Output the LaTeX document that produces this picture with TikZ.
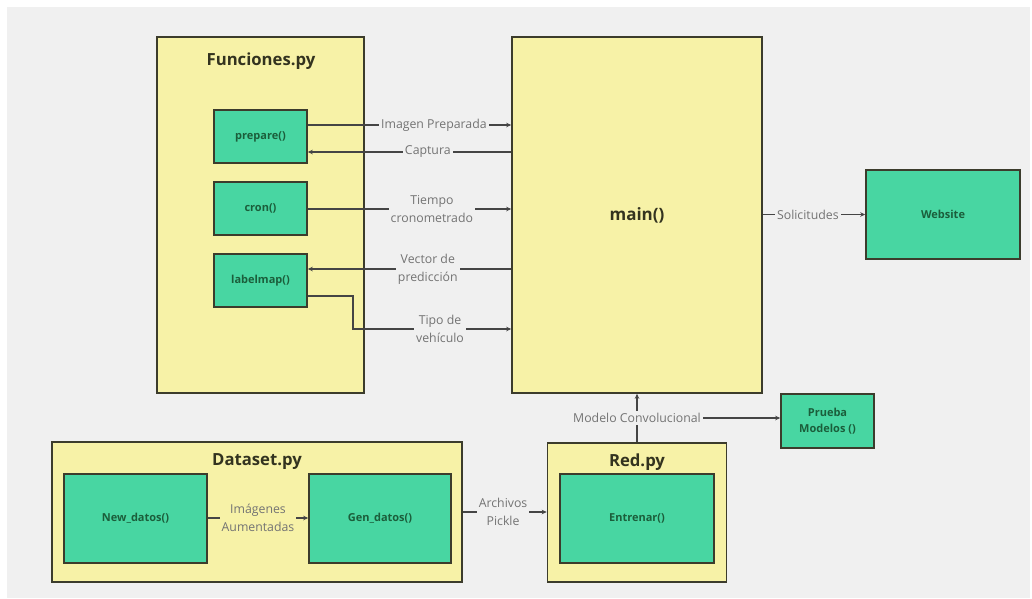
\documentclass[tikz,border=0pt]{standalone}
\usepackage{fontspec}
\setmainfont{Open Sans}
\usetikzlibrary{arrows.meta}
\definecolor{canvas}{HTML}{F0F0F0}
\definecolor{modfill}{HTML}{F7F2A7}
\definecolor{fnfill}{HTML}{48D6A2}
\definecolor{edge}{HTML}{3C3C2C}
\definecolor{fntext}{HTML}{1B5E3B}
\definecolor{lbltext}{HTML}{737373}
\definecolor{wire}{HTML}{454545}
\definecolor{titletext}{HTML}{33331F}
\tikzset{
  module/.style={draw=edge, line width=1.6pt, fill=modfill, inner sep=0pt},
  fnbox/.style={draw=edge, line width=1.6pt, fill=fnfill, inner sep=0pt,
    font=\fontsize{11}{14}\selectfont\bfseries, text=fntext, align=center},
  title/.style={font=\fontsize{16.7}{20}\selectfont\bfseries, text=titletext},
  conn/.style={draw=wire, line width=1.1pt, -{Stealth[length=5pt,width=4.5pt]}},
  plain/.style={draw=wire, line width=1.1pt},
  lbl/.style={fill=canvas, text=lbltext, font=\fontsize{12.3}{18}\selectfont,
    align=center, inner sep=2pt},
}
\begin{document}
\begin{tikzpicture}[x=1pt, y=-1pt]
  % page and canvas
  \useasboundingbox (0,0) rectangle (1032,598);
  \fill[white] (0,0) rectangle (1032,598);
  \fill[canvas] (7,7) rectangle (1030,598);

  % modules
  \node[module, minimum width=207pt, minimum height=356pt] (fun) at (260.5,215) {};
  \node[title] (funt) at (261,61) {Funciones.py};
  \node[module, minimum width=250pt, minimum height=356pt,
        font=\fontsize{17}{20}\selectfont\bfseries, text=titletext] (main) at (637,215) {main()};
  \node[module, minimum width=410pt, minimum height=140pt] (data) at (257,512) {};
  \node[title] (datat) at (257,462) {Dataset.py};
  \node[module, minimum width=179pt, minimum height=139pt] (red) at (637,512.5) {};
  \node[title] (redt) at (637,462) {Red.py};

  % functions
  \node[fnbox, minimum width=93pt, minimum height=53pt] (prep) at (260.5,136.5) {prepare()};
  \node[fnbox, minimum width=93pt, minimum height=53pt] (cron) at (260.5,208.5) {cron()};
  \node[fnbox, minimum width=93pt, minimum height=53pt] (lab) at (260.5,280.5) {labelmap()};
  \node[fnbox, minimum width=154pt, minimum height=89pt] (web) at (943,214.5) {Website};
  \node[fnbox, minimum width=143pt, minimum height=89pt] (newd) at (135.5,518.5) {New\_datos()};
  \node[fnbox, minimum width=142pt, minimum height=89pt] (gend) at (380,518.5) {Gen\_datos()};
  \node[fnbox, minimum width=154pt, minimum height=89pt] (ent) at (637,518.5) {Entrenar()};
  \node[fnbox, minimum width=93pt, minimum height=54pt, font=\fontsize{11}{16}\selectfont\bfseries]
    (prueba) at (827.5,421) {Prueba\\Modelos ()};

  % data flow between Funciones.py and main()
  \draw[conn] (prep.east |- 0,125) -- node[lbl, pos=.62] {Imagen Preparada} (main.west |- 0,125);
  \draw[conn] (main.west |- 0,152) -- node[lbl, pos=.41] {Captura} (prep.east |- 0,152);
  \draw[conn] (cron.east |- 0,209) -- node[lbl, pos=.61] {Tiempo\\cronometrado} (main.west |- 0,209);
  \draw[conn] (main.west |- 0,269) -- node[lbl, pos=.41] {Vector de\\predicción} (lab.east |- 0,269);
  \draw[conn] (lab.east |- 0,296) -- (353,296) -- (353,329)
    -- node[lbl, pos=.55] {Tipo de\\vehículo} (main.west |- 0,329);

  % requests to the website
  \draw[conn] (main.east |- web.west) -- node[lbl, pos=.44] {Solicitudes} (web.west);

  % dataset pipeline
  \draw[conn] (newd.east |- 0,518) -- node[lbl, fill=modfill] {Imágenes\\Aumentadas} (gend.west |- 0,518);
  \draw[conn] (data.east |- 0,512) -- node[lbl, pos=.48] {Archivos\\Pickle} (red.west |- 0,512);

  % trained model
  \draw[conn] (red.north) -- node[lbl] (mc) {Modelo Convolucional} (main.south);
  \draw[conn] (mc.east) -- (prueba.west |- mc.east);
\end{tikzpicture}
\end{document}
